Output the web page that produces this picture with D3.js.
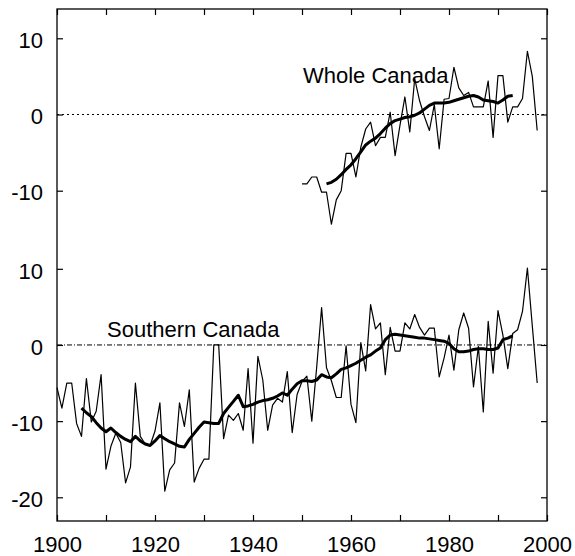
<!DOCTYPE html>
<html>
<head>
<meta charset="utf-8">
<script src="https://cdnjs.cloudflare.com/ajax/libs/d3/7.8.5/d3.min.js"></script>
<style>
	body { margin: 0; background: #fff; }
	svg text { font-family: "Liberation Sans", Arial, Helvetica, sans-serif; fill: #000; }
</style>
</head>
<body>
<svg width="575" height="556"></svg>
<script>
// annual values, Southern Canada 1900-1998
var southStart = 1900;
var southAnnual = [
	-5.6, -8.3, -5.0, -5.0, -10.3, -12.0, -4.4, -10.1, -8.7, -3.9,
	-16.3, -13.3, -11.6, -12.8, -18.1, -16.0, -5.0, -12.0, -13.0, -13.2,
	-11.3, -7.6, -19.2, -16.4, -15.5, -7.6, -10.7, -5.9, -18.0, -16.2,
	-15.0, -15.0, 0, 0, -12.3, -9.2, -9.9, -9.0, -11.2, -3.1,
	-12.9, -1.5, -4.6, -11.2, -7.9, -7.0, -7.5, -3.5, -11.5, -6.5,
	-4.8, -4.1, -10.0, -2.9, 4.9, -3.0, -4.7, -6.9, -6.9, -0.1,
	-7.8, -10.2, 0.3, -3.4, 5.3, 2.1, 2.9, -3.9, 2.3, -0.8,
	-0.8, 2.9, 2.1, 4.0, 2.3, 1.3, 2.2, 2.2, -4.2, -1.7,
	1.3, -3.3, 2.0, 4.2, 2.2, -5.5, -0.2, -8.8, 3.1, -3.7,
	4.5, 1.3, -3.1, 1.5, 2.0, 4.4, 10.1, 2.5, -5.0
];

// smoothed curve, Southern Canada 1905-1993
var southSmoothStart = 1905;
var southSmooth = [
	-8.3, -8.9, -9.4, -10.2, -10.9, -11.4, -10.9, -11.5, -12.0, -12.4,
	-12.7, -12.0, -12.6, -13.0, -13.2, -12.6, -11.9, -12.3, -12.7, -13.0,
	-13.3, -13.4, -12.4, -11.6, -10.8, -10.1, -10.2, -10.3, -10.3, -9.0,
	-8.2, -7.4, -6.6, -8.1, -8.0, -7.8, -7.5, -7.3, -7.2, -7.0,
	-6.7, -6.3, -6.6, -5.8, -5.1, -4.7, -4.7, -4.8, -4.6, -3.9,
	-4.2, -4.3, -3.8, -3.2, -3.0, -2.7, -2.4, -2.0, -1.6, -1.3,
	-0.8, -0.4, 0.7, 1.3, 1.4, 1.3, 1.2, 1.1, 1.0, 0.9,
	0.9, 0.8, 0.7, 0.6, 0.5, 0.2, -0.5, -0.9, -0.9, -0.8,
	-0.6, -0.5, -0.5, -0.6, -0.6, -0.4, 0.7, 0.9, 1.2
];

// annual values, Whole Canada 1950-1998
var wholeStart = 1950;
var wholeAnnual = [
	-9.1, -9.1, -8.2, -8.2, -10.2, -10.2, -14.4, -11.2, -10.0, -5.1,
	-5.1, -8.2, -4.3, -1.9, -1.0, -4.1, -3.0, -3.0, 0.3, -5.4,
	-1.4, 2.3, -2.3, 4.7, 1.8, -0.3, -2.1, 1.3, -4.5, 2.0,
	2.1, 6.2, 3.5, 2.5, 2.9, 1.0, 1.0, 1.0, 4.4, -3.0,
	5.1, 5.1, -1.0, 1.0, 1.0, 2.1, 8.3, 5.0, -2.1
];

// smoothed curve, Whole Canada 1955-1993
var wholeSmoothStart = 1955;
var wholeSmooth = [
	-9.1, -8.9, -8.5, -7.9, -7.2, -6.6, -5.8, -4.9, -4.0, -3.5,
	-3.1, -2.5, -1.8, -1.2, -0.8, -0.6, -0.4, -0.3, -0.1, 0.2,
	0.7, 1.2, 1.5, 1.5, 1.5, 1.6, 1.8, 2.0, 2.2, 2.4,
	2.5, 2.3, 1.9, 1.8, 1.7, 1.5, 1.9, 2.4, 2.5
];

var xTicks = [1900, 1910, 1920, 1930, 1940, 1950, 1960, 1970, 1980, 1990, 2000];
var xLabels = [1900, 1920, 1940, 1960, 1980, 2000];
var upperTicks = [-10, 0, 10];
var lowerTicks = [-20, -10, 0, 10];

var svg = d3.select('svg'),
	plotLeft = 57,
	plotRight = 547,
	plotTop = 9,
	plotBottom = 521;

var x = d3.scaleLinear().domain([1900, 2000]).range([plotLeft, plotRight]);
var yUp = d3.scaleLinear().domain([-10, 10]).range([190.7, 38.3]);
var yLo = d3.scaleLinear().domain([-20, 10]).range([497.3, 268.8]);

// plain hyphen for negative labels, as in the original
var fmt = function(d) { return String(d); };

function toPoints(start, values) {
	return values.map(function(v, i) { return {year: start + i, value: v}; });
}

// zero reference lines
svg.append('line')
	.attr('x1', plotLeft).attr('x2', plotRight)
	.attr('y1', yUp(0)).attr('y2', yUp(0))
	.attr('stroke', '#000').attr('stroke-width', 1)
	.attr('stroke-dasharray', '2,3');

svg.append('line')
	.attr('x1', plotLeft).attr('x2', plotRight)
	.attr('y1', yLo(0)).attr('y2', yLo(0))
	.attr('stroke', '#000').attr('stroke-width', 1)
	.attr('stroke-dasharray', '5,2,1,2');

function drawLine(points, y, width) {
	var line = d3.line()
		.x(function(d) { return x(d.year); })
		.y(function(d) { return y(d.value); });
	svg.append('path')
		.datum(points)
		.attr('d', line)
		.attr('fill', 'none')
		.attr('stroke', '#000')
		.attr('stroke-width', width)
		.attr('stroke-linejoin', 'round');
}

drawLine(toPoints(southStart, southAnnual), yLo, 1.2);
drawLine(toPoints(southSmoothStart, southSmooth), yLo, 3);
drawLine(toPoints(wholeStart, wholeAnnual), yUp, 1.2);
drawLine(toPoints(wholeSmoothStart, wholeSmooth), yUp, 3);

// frame
svg.append('rect')
	.attr('x', plotLeft).attr('y', plotTop)
	.attr('width', plotRight - plotLeft).attr('height', plotBottom - plotTop)
	.attr('fill', 'none').attr('stroke', '#000').attr('stroke-width', 1.3);

// axes, ticks pointing inwards
function tidy(g, size) {
	g.select('.domain').remove();
	g.selectAll('line').attr('stroke', '#000').attr('stroke-width', 1.2);
	g.selectAll('text').style('font-size', size + 'px').attr('fill', '#000');
}

svg.append('g')
	.attr('transform', 'translate(' + plotLeft + ',0)')
	.call(d3.axisLeft(yUp).tickValues(upperTicks).tickSize(-6).tickPadding(14).tickFormat(fmt))
	.call(tidy, 22)
	.selectAll('text').attr('dy', '0.42em');

svg.append('g')
	.attr('transform', 'translate(' + plotLeft + ',0)')
	.call(d3.axisLeft(yLo).tickValues(lowerTicks).tickSize(-6).tickPadding(14).tickFormat(fmt))
	.call(tidy, 22)
	.selectAll('text').attr('dy', '0.42em');

svg.append('g')
	.attr('transform', 'translate(' + plotRight + ',0)')
	.call(d3.axisRight(yUp).tickValues(upperTicks).tickSize(-6).tickFormat(''))
	.call(tidy, 22);

svg.append('g')
	.attr('transform', 'translate(' + plotRight + ',0)')
	.call(d3.axisRight(yLo).tickValues(lowerTicks).tickSize(-6).tickFormat(''))
	.call(tidy, 22);

svg.append('g')
	.attr('transform', 'translate(0,' + plotBottom + ')')
	.call(d3.axisBottom(x).tickValues(xTicks).tickSize(-6).tickPadding(15)
		.tickFormat(function(d) { return xLabels.indexOf(d) >= 0 ? fmt(d) : ''; }))
	.call(tidy, 22);

svg.append('g')
	.attr('transform', 'translate(0,' + plotTop + ')')
	.call(d3.axisTop(x).tickValues(xTicks).tickSize(-6).tickFormat(''))
	.call(tidy, 22);

// series labels
svg.append('text')
	.attr('x', 303).attr('y', 83)
	.style('font-size', '22px')
	.text('Whole Canada');

svg.append('text')
	.attr('x', 107).attr('y', 337)
	.style('font-size', '22px')
	.text('Southern Canada');
</script>
</body>
</html>
